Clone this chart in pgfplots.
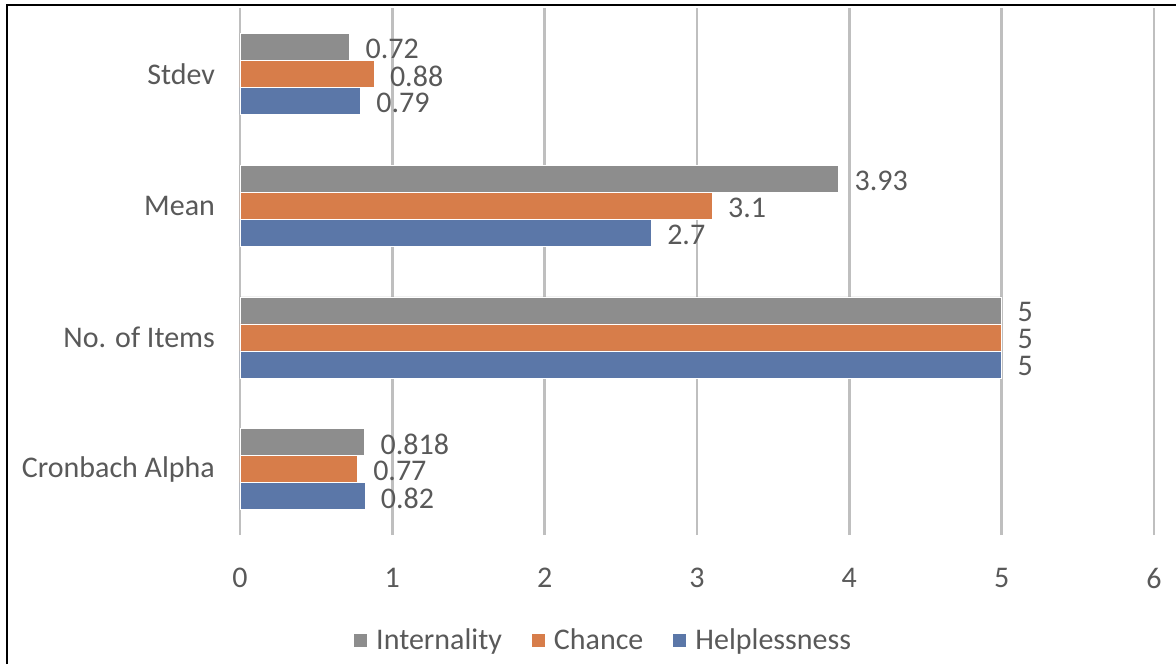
\documentclass[border=0pt]{standalone}
\usepackage{pgfplots}
\pgfplotsset{compat=1.18}
\usepackage{fontspec}
\setmainfont{Carlito}
\definecolor{txt}{HTML}{595959}
\definecolor{gridc}{HTML}{BFBFBF}
\definecolor{cblue}{HTML}{5B77A8}
\definecolor{corange}{HTML}{D77D4A}
\definecolor{cgray}{HTML}{8D8D8D}
\begin{document}
\begin{tikzpicture}
\begin{axis}[
  anchor=south west, at={(0pt,0pt)},
  scale only axis, width=457pt, height=263.5pt,
  xbar, bar width=13.5pt,
  xmin=0, xmax=6, ymin=-0.5, ymax=3.5,
  ytick={0,1,2,3}, yticklabels={Cronbach Alpha, No. of Items, Mean, Stdev},
  xtick={0,1,2,3,4,5,6},
  axis line style={draw=none}, major tick length=0pt,
  xmajorgrids, grid style={draw=gridc, line width=1.3pt},
  /pgf/number format/assume math mode=true,
  /pgf/number format/precision=3,
  tick label style={font=\fontsize{15}{18}\selectfont, text=txt},
  yticklabel style={xshift=-9pt},
  xticklabel style={yshift=-13pt},
  point meta=x,
  nodes near coords,
  nodes near coords align={horizontal},
  every node near coord/.append style={font=\fontsize{15}{18}\selectfont, text=txt, xshift=4.5pt, yshift=-1pt},
  legend columns=3,
  legend style={at={(0.399,-0.201)}, anchor=center, draw=none, fill=none,
    font=\fontsize{15}{18}\selectfont, text=txt,
    /tikz/every odd column/.append style={column sep=2.5pt},
    /tikz/every even column/.append style={column sep=13pt}},
  legend image code/.code={\fill[#1,draw=none] (0pt,-3pt) rectangle (6.5pt,3.5pt);},
]
\addplot[fill=cgray, draw=white, line width=0.3pt, bar shift=13.5pt] coordinates {(0.818,0) (5,1) (3.93,2) (0.72,3)};
\addplot[fill=corange, draw=white, line width=0.3pt, bar shift=0pt] coordinates {(0.77,0) (5,1) (3.1,2) (0.88,3)};
\addplot[fill=cblue, draw=white, line width=0.3pt, bar shift=-13.5pt] coordinates {(0.82,0) (5,1) (2.7,2) (0.79,3)};
\legend{Internality, Chance, Helplessness}
\end{axis}
\useasboundingbox (-120pt,-64.5pt) rectangle (468pt,267.5pt);
\draw[line width=1.1pt] (-116.5pt,-64.5pt) -- (-116.5pt,265pt) -- (468pt,265pt);
\end{tikzpicture}
\end{document}
